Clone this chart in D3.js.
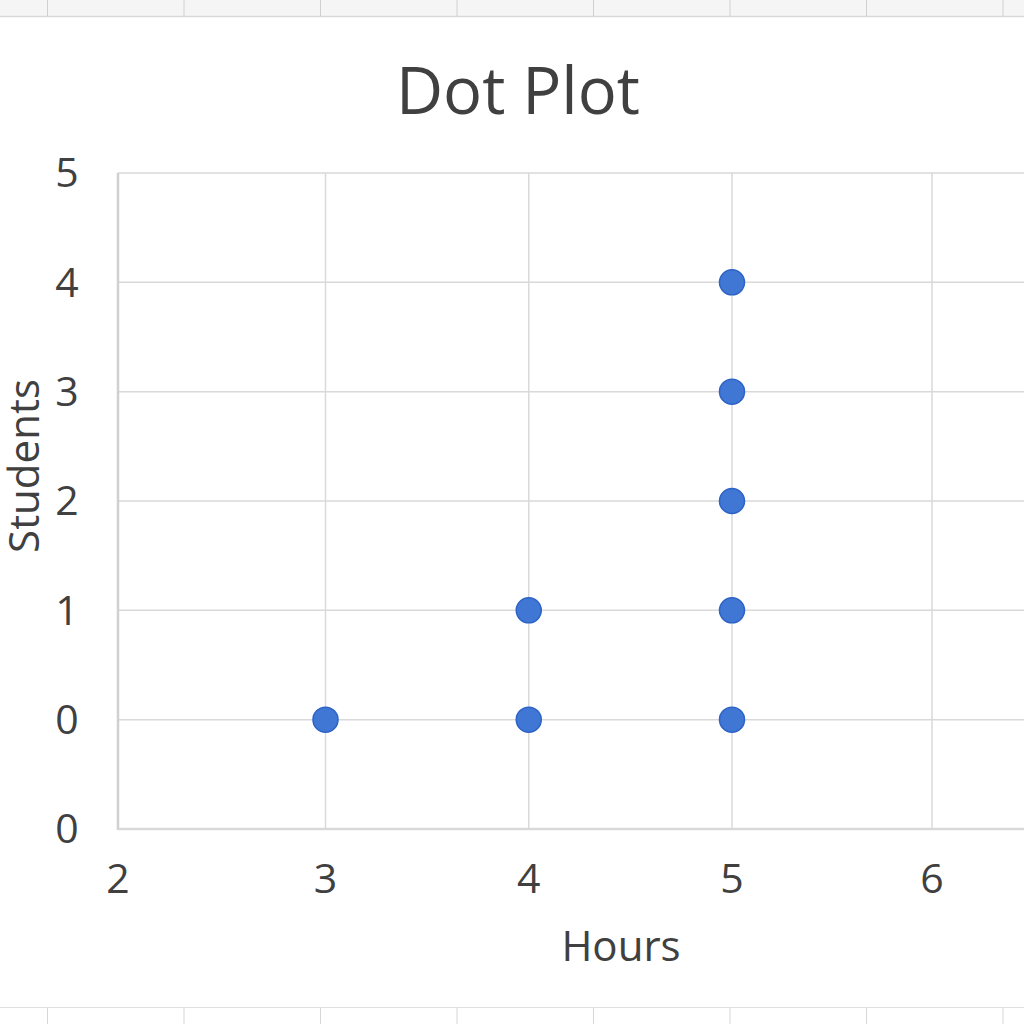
<!DOCTYPE html>
<html>
<head>
<meta charset="utf-8">
<script src="https://cdn.jsdelivr.net/npm/d3@7"></script>
<style>
  html, body { margin: 0; padding: 0; background: #fff; }
  svg { display: block; }
  text { font-family: "Open Sans", "Noto Sans", sans-serif; fill: #404040; }
</style>
</head>
<body>
<svg id="chart" width="1024" height="1024"></svg>
<script>
// ---- data ----
const title = "Dot Plot";
const xLabel = "Hours";
const yLabel = "Students";
const hours    = [3, 4, 4, 5, 5, 5, 5, 5];
const students = [0, 0, 1, 0, 1, 2, 3, 4];
const xTicks = [2, 3, 4, 5, 6];
const yTicks = [5, 4, 3, 2, 1, 0, -1];
const yTickLabels = ["5", "4", "3", "2", "1", "0", "0"];
const sheetCols = [0, 1, 2, 3, 4, 5, 6, 7];

(function () {
// ---- layout ----
const W = 1024, H = 1024;
const svg = d3.select("#chart");
const pLeft = 118, pRight = 1024, pTop = 173, pBottom = 829;

const x = d3.scaleLinear().domain([2, 3, 5, 6]).range([pLeft, 325.5, 732, 932]);
const y = d3.scaleLinear().domain([-1, 5]).range([pBottom, pTop]);

// spreadsheet background strips
const colX = d3.scaleLinear().domain([0, 7]).range([47.5, 1003]);
svg.append("rect").attr("x", 0).attr("y", 0).attr("width", W).attr("height", 16).attr("fill", "#f5f5f5");
svg.append("line").attr("x1", 0).attr("x2", W).attr("y1", 16.5).attr("y2", 16.5).attr("stroke", "#d9d9d9").attr("stroke-width", 1.5);
svg.append("line").attr("x1", 0).attr("x2", W).attr("y1", 1007.5).attr("y2", 1007.5).attr("stroke", "#e0e0e0").attr("stroke-width", 1);
sheetCols.forEach(c => {
  svg.append("line").attr("x1", colX(c)).attr("x2", colX(c)).attr("y1", 0).attr("y2", 16)
    .attr("stroke", "#d0d0d0").attr("stroke-width", 1);
  svg.append("line").attr("x1", colX(c)).attr("x2", colX(c)).attr("y1", 1008).attr("y2", 1024)
    .attr("stroke", "#d6d6d6").attr("stroke-width", 1);
});

// gridlines
const grid = svg.append("g");
grid.selectAll(".vg").data(xTicks.slice(1)).join("line")
  .attr("x1", d => x(d)).attr("x2", d => x(d)).attr("y1", pTop).attr("y2", pBottom)
  .attr("stroke", "#d9d9d9").attr("stroke-width", 1.5);
grid.selectAll(".hg").data(yTicks.filter(d => d > -1)).join("line")
  .attr("x1", pLeft).attr("x2", pRight).attr("y1", d => y(d)).attr("y2", d => y(d))
  .attr("stroke", "#d9d9d9").attr("stroke-width", 1.5);

// axis lines
svg.append("line").attr("x1", pLeft).attr("x2", pLeft).attr("y1", pTop).attr("y2", pBottom + 1)
  .attr("stroke", "#d0d0d0").attr("stroke-width", 2.5);
svg.append("line").attr("x1", pLeft).attr("x2", pRight).attr("y1", pBottom).attr("y2", pBottom)
  .attr("stroke", "#d9d9d9").attr("stroke-width", 2.5);

// tick labels
svg.append("g").selectAll("text").data(yTicks).join("text")
  .attr("x", 67).attr("y", d => y(d)).attr("dy", "0.35em")
  .attr("text-anchor", "middle").attr("font-size", 41)
  .text((d, i) => yTickLabels[i]);
svg.append("g").selectAll("text").data(xTicks).join("text")
  .attr("x", d => x(d)).attr("y", 879).attr("dy", "0.35em")
  .attr("text-anchor", "middle").attr("font-size", 41)
  .text(d => d);

// dots
svg.append("g").selectAll("circle").data(hours.map((h, i) => [h, students[i]])).join("circle")
  .attr("cx", d => x(d[0])).attr("cy", d => y(d[1])).attr("r", 12.5)
  .attr("fill", "#4177d4").attr("stroke", "#2d62c6").attr("stroke-width", 1.5);

// titles
svg.append("text").attr("x", 518).attr("y", 114).attr("text-anchor", "middle")
  .attr("font-size", 65).text(title);
svg.append("text").attr("x", 621).attr("y", 946).attr("dy", "0.35em").attr("text-anchor", "middle")
  .attr("font-size", 42).text(xLabel);
svg.append("text").attr("transform", "translate(24,466) rotate(-90)").attr("dy", "0.35em")
  .attr("text-anchor", "middle").attr("font-size", 42).text(yLabel);
})();
</script>
</body>
</html>
